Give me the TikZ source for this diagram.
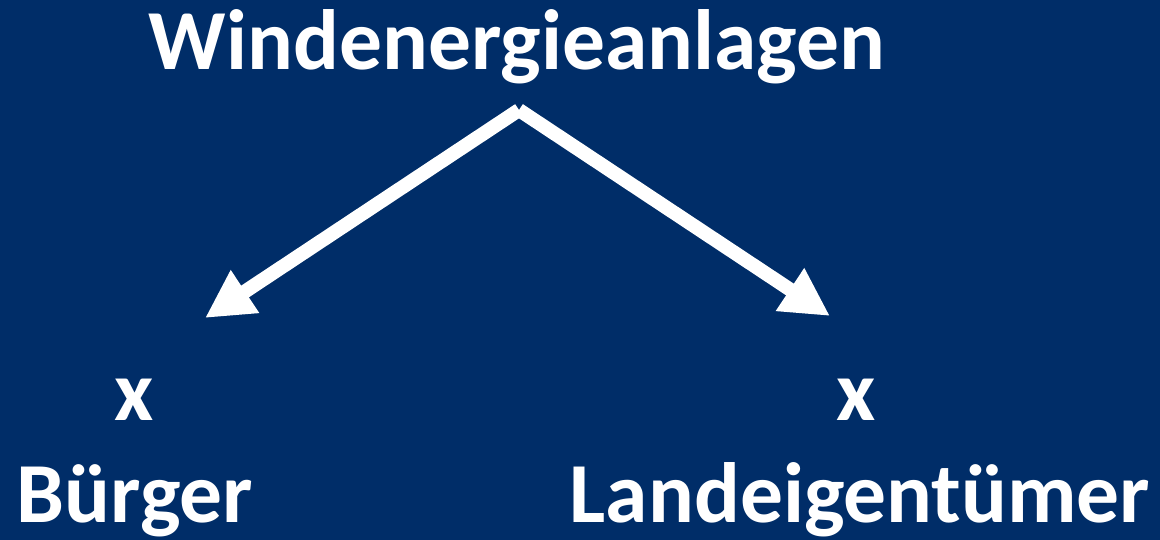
\documentclass[tikz,border=0pt]{standalone}
\usepackage{fontspec}
\setmainfont{Carlito}
\usetikzlibrary{arrows.meta}
\definecolor{bgblue}{RGB}{0,45,104}
\tikzset{
  lbl/.style={text=white, font=\fontsize{85.5}{85.5}\selectfont\bfseries, inner sep=0pt, anchor=base},
  arr/.style={draw=white, line width=14pt, line join=round, -{Triangle[length=48pt,width=48pt]}}
}
\begin{document}
\begin{tikzpicture}[x=1pt,y=-1pt]
\fill[bgblue] (0,0) rectangle (1160,540);
\useasboundingbox (0,0) rectangle (1160,540);
\node[lbl] (title) at (517,70) {Windenergieanlagen};
\node[lbl] (xl) at (134,420) {x};
\node[lbl] (xr) at (856,420) {x};
\node[lbl] (buerger) at (135,522) {Bürger};
\node[lbl] (land) at (860,522) {Landeigentümer};
\coordinate (apex) at (519,110);
\coordinate (tl) at (205,318);
\coordinate (tr) at (830,316);
\draw[arr] (apex) -- (tl);
\draw[arr] (apex) -- (tr);
\end{tikzpicture}
\end{document}
